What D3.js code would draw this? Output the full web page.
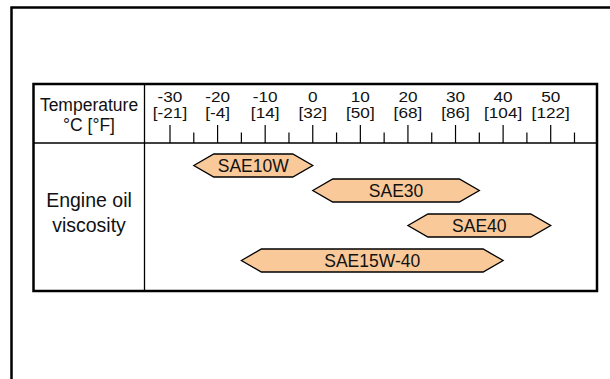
<!DOCTYPE html>
<html>
<head>
	<meta charset="utf-8">
	<script src="https://cdn.jsdelivr.net/npm/d3@7"></script>
	<style>
		body { margin: 0; background: #fff; }
		text { font-family: Arial, "Liberation Sans", sans-serif; fill: #111; }
	</style>
</head>
<body>
	<svg id="chart" width="610" height="379"></svg>
	<script>
		// temperature scale labels
		var celsius = [-30, -20, -10, 0, 10, 20, 30, 40, 50];
		var fahrenheit = ["[-21]", "[-4]", "[14]", "[32]", "[50]", "[68]", "[86]", "[104]", "[122]"];
		var minorTicks = [-25, -15, -5, 5, 15, 25, 35, 45, 55];

		// oil grades and their temperature ranges (deg C)
		var grades = ["SAE10W", "SAE30", "SAE40", "SAE15W-40"];
		var lowTemp = [-25, 0, 20, -15];
		var highTemp = [0, 35, 50, 40];

		var svg = d3.select("#chart");

		var x = d3.scaleLinear().domain([-30, 50]).range([170, 550.7]);
		var y = d3.scaleOrdinal().domain(grades).range([165.5, 190.5, 225.5, 260.5]);

		// outer frame (runs off the page)
		svg.append("rect")
			.attr("x", 11.5).attr("y", 7.5)
			.attr("width", 700).attr("height", 500)
			.attr("fill", "none").attr("stroke", "#000").attr("stroke-width", 2.5);

		// table
		var table = { left: 33.5, top: 84, right: 597, bottom: 291, divider: 144.5, header: 143 };
		svg.append("rect")
			.attr("x", table.left).attr("y", table.top)
			.attr("width", table.right - table.left).attr("height", table.bottom - table.top)
			.attr("fill", "none").attr("stroke", "#000").attr("stroke-width", 2.5);
		svg.append("line")
			.attr("x1", table.divider).attr("x2", table.divider)
			.attr("y1", table.top).attr("y2", table.bottom)
			.attr("stroke", "#000").attr("stroke-width", 1.3);
		svg.append("line")
			.attr("x1", table.left).attr("x2", table.right)
			.attr("y1", table.header).attr("y2", table.header)
			.attr("stroke", "#000").attr("stroke-width", 1.3);

		// ticks
		svg.selectAll("line.major")
			.data(celsius).enter().append("line")
			.attr("class", "major")
			.attr("x1", function(d) { return x(d); }).attr("x2", function(d) { return x(d); })
			.attr("y1", 125).attr("y2", table.header)
			.attr("stroke", "#000").attr("stroke-width", 1.2);
		svg.selectAll("line.minor")
			.data(minorTicks).enter().append("line")
			.attr("class", "minor")
			.attr("x1", function(d) { return x(d); }).attr("x2", function(d) { return x(d); })
			.attr("y1", 132.5).attr("y2", table.header)
			.attr("stroke", "#000").attr("stroke-width", 1.2);

		// tick labels are a bit wide and squat in the original
		var tickLabels = svg.selectAll("g.ticklabel")
			.data(celsius).enter().append("g")
			.attr("class", "ticklabel")
			.attr("transform", function(d) { return "translate(" + x(d) + ",0) scale(1.13,1)"; });
		tickLabels.append("text")
			.attr("y", 102.5)
			.attr("text-anchor", "middle").attr("font-size", 15.2)
			.text(function(d) { return d; });
		tickLabels.append("text")
			.attr("y", 118)
			.attr("text-anchor", "middle").attr("font-size", 15.2)
			.text(function(d, i) { return fahrenheit[i]; });

		// row labels
		var labelX = (table.left + table.divider) / 2;
		svg.append("text").attr("x", labelX).attr("y", 110.5).attr("text-anchor", "middle")
			.attr("font-size", 17.5).text("Temperature");
		svg.append("text").attr("x", labelX).attr("y", 130.5).attr("text-anchor", "middle")
			.attr("font-size", 17.5).text("°C [°F]");
		svg.append("text").attr("x", labelX).attr("y", 207).attr("text-anchor", "middle")
			.attr("font-size", 19.5).text("Engine oil");
		svg.append("text").attr("x", labelX).attr("y", 232).attr("text-anchor", "middle")
			.attr("font-size", 19.5).text("viscosity");

		// range arrows
		var tip = 20, half = 11.5;
		function hexagon(i) {
			var x0 = x(lowTemp[i]), x1 = x(highTemp[i]), cy = y(grades[i]);
			return [
				[x0, cy], [x0 + tip, cy - half], [x1 - tip, cy - half],
				[x1, cy], [x1 - tip, cy + half], [x0 + tip, cy + half]
			];
		}

		var bars = svg.selectAll("g.bar")
			.data(grades).enter().append("g")
			.attr("class", "bar");
		bars.append("path")
			.attr("d", function(d, i) { return d3.line()(hexagon(i)) + "Z"; })
			.attr("fill", "#f9c99a").attr("stroke", "#000").attr("stroke-width", 1.3);
		bars.append("text")
			.attr("x", function(d, i) { return (x(lowTemp[i]) + x(highTemp[i])) / 2; })
			.attr("y", function(d) { return y(d) + 6.5; })
			.attr("text-anchor", "middle").attr("font-size", 17.5)
			.text(function(d) { return d; });
	</script>
</body>
</html>
